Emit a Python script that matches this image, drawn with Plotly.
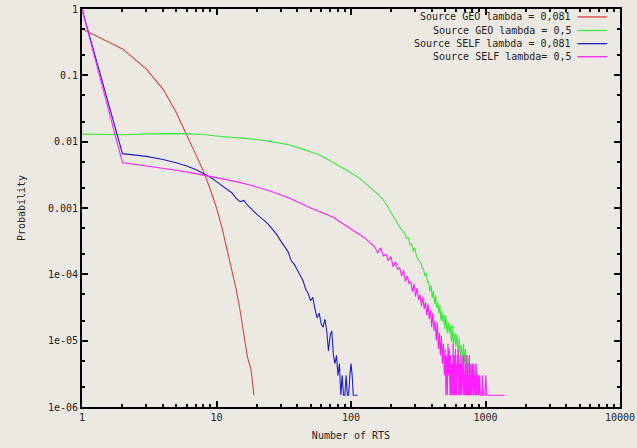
import plotly.graph_objects as go

names = ["Source GEO lambda = 0,081", "Source GEO lambda = 0,5",
         "Source SELF lambda = 0,081", "Source SELF lambda= 0,5"]
colors = ["#d84444", "#3fe83f", "#1e1ec8", "#ff1eff"]

# GEO lambda = 0,081
geo1_x = list(range(1, 20))
geo1_p = [0.5, 0.25, 0.125, 0.062, 0.028, 0.0125, 0.0066, 0.0036, 0.0019, 0.001,
          0.0005, 0.00024, 0.00012, 6e-5, 2.8e-5, 1.2e-5, 5.6e-6, 3.8e-6, 1.5e-6]

# GEO lambda = 0,5
geo5_x = [1, 2, 3, 4, 5, 6, 8, 10, 13, 16, 20, 25, 30, 35, 40, 45, 50, 57, 64, 72,
          80, 90, 100, 116, 130, 145, 165, 180, 200, 215, 232,
          250, 258, 266, 274, 282, 290, 298, 306, 314, 322, 330, 338, 346, 354, 362,
          370, 378, 386, 394, 402, 410, 418, 426, 434, 442, 450, 458, 466, 474, 482,
          490, 498, 508, 518, 528, 538, 548, 558, 568, 578, 590, 602, 614, 626, 638,
          650, 662, 674, 686, 698, 710, 722, 734, 746, 758, 770, 782, 794, 806, 818,
          830, 842, 856, 870]
geo5_p = [0.013, 0.0127, 0.0131, 0.0133, 0.0132, 0.0131, 0.0128, 0.0122, 0.0117, 0.0113,
          0.0108, 0.0101, 0.0094, 0.0089, 0.0082, 0.0076, 0.0071, 0.0064, 0.0057, 0.0050,
          0.0044, 0.0038, 0.0034, 0.0028, 0.0023, 0.0019, 0.0015, 0.0012, 0.00085, 0.00065, 0.00050,
          4.2e-4, 3.5e-4, 3.6e-4, 2.8e-4, 2.9e-4, 2.2e-4, 2.5e-4, 1.9e-4, 1.7e-4, 1.6e-4,
          1.5e-4, 1.25e-4, 1.2e-4, 9.5e-5, 1.05e-4, 7.5e-5, 7.8e-5, 5.5e-5, 6.8e-5, 4.4e-5,
          5.6e-5, 3.6e-5, 4.8e-5, 3.1e-5, 3.7e-5, 2.6e-5, 3.5e-5, 2.0e-5, 2.8e-5, 1.9e-5,
          2.5e-5, 1.5e-5, 2.4e-5, 1.3e-5, 1.9e-5, 1.3e-5, 1.7e-5, 9.5e-6, 1.7e-5, 8.5e-6,
          1.3e-5, 8.0e-6, 1.25e-5, 6.0e-6, 1.1e-5, 6.0e-6, 8.5e-6, 4.5e-6, 9.0e-6, 4.5e-6,
          7.5e-6, 3.0e-6, 6.0e-6, 3.0e-6, 6.0e-6, 1.5e-6, 4.5e-6, 3.0e-6, 4.5e-6, 1.5e-6,
          3.0e-6, 4.5e-6, 1.5e-6, 3.0e-6]

# SELF lambda = 0,081
self1_x = [1, 2, 3, 4, 5, 6, 7, 8, 9, 10, 11, 12, 13, 14, 15, 16, 17, 18, 19, 20,
           22, 24, 26, 28, 30, 32, 34, 36, 38, 40, 42, 44, 46, 48, 50, 52, 54, 56, 58,
           60, 62, 64, 66, 68, 70, 72, 74, 76, 78, 80, 82, 84, 86, 88, 90, 92, 94, 96,
           98, 100, 102, 104, 108, 112]
self1_p = [1.0, 0.0066, 0.006, 0.0054, 0.0048, 0.0043, 0.0038, 0.0033, 0.0029, 0.0025,
           0.0022, 0.0019, 0.0017, 0.0014, 0.00125, 0.0013, 0.0011, 0.00098, 0.00088, 0.0008,
           0.00068, 0.00058, 0.00048, 0.0004, 0.00032, 0.00026, 0.00022, 0.00016, 0.00014,
           0.000115, 0.000095, 0.00008, 0.00006, 0.000052, 0.00004, 0.000045, 0.00003,
           0.000022, 0.000026, 0.000018, 0.000016, 0.000021, 0.000014, 0.000007, 0.000012,
           0.000014, 0.000006, 0.0000045, 0.000006, 0.000003, 0.0000045, 0.0000015,
           0.000003, 0.0000015, 0.0000015, 0.000003, 0.0000015, 0.0000015, 0.000003,
           0.0000045, 0.000003, 0.0000015, 0.0000015, 0.0000015]

# SELF lambda = 0,5
self5_x = [1, 2, 3, 4, 5, 7, 10, 14, 18, 25, 35, 50, 73, 103, 125,
           150, 158, 166, 174, 182, 190, 198, 206, 214, 222, 230, 238, 246, 254, 262,
           270, 278, 286, 294, 302, 310, 318, 326, 334, 342, 350, 358, 366, 374, 382,
           390, 398, 406, 414, 422, 430, 438, 446, 454, 462, 470, 478, 486, 494,
           502, 508, 514, 520, 526, 532, 538, 544, 550, 556, 562, 568, 574, 580, 586,
           592, 598, 603, 608, 613, 618, 623, 628, 633, 638, 643, 648, 653, 658, 663,
           668, 673, 678, 683, 688, 693, 698, 703, 708, 713, 718, 723, 728, 733, 738,
           743, 748, 753, 758, 763, 768, 773, 778, 783, 788, 793, 798, 803, 808, 813,
           818, 823, 828, 833, 840, 847, 854, 861, 868, 875, 885, 895, 905, 915, 940,
           950, 960, 990, 1005, 1020, 1390]
self5_p = [1.0, 0.0048, 0.0043, 0.004, 0.0037, 0.0033, 0.0029, 0.0025, 0.0022, 0.0018,
           0.0014, 0.001, 0.00073, 0.00046, 0.00036,
           2.6e-4, 2.1e-4, 2.5e-4, 1.9e-4, 2.0e-4, 1.6e-4, 1.85e-4, 1.3e-4, 1.55e-4, 1.2e-4,
           1.25e-4, 9.5e-5, 1.15e-4, 7.8e-5, 9.5e-5, 7.2e-5, 7.8e-5, 5.5e-5, 7.2e-5, 4.6e-5,
           6.2e-5, 4.1e-5, 5.0e-5, 3.3e-5, 4.6e-5, 3.0e-5, 3.8e-5, 2.4e-5, 3.6e-5, 2.1e-5,
           2.9e-5, 1.6e-5, 2.6e-5, 1.4e-5, 2.0e-5, 1.0e-5, 1.9e-5, 7.5e-6, 1.3e-5, 6.0e-6,
           1.2e-5, 4.5e-6, 9.0e-6, 3.0e-6,
           7.5e-6, 1.5e-6, 6.0e-6, 1.5e-6, 9.0e-6, 3.0e-6, 7.5e-6, 1.5e-6, 6.0e-6, 1.5e-6,
           4.5e-6, 1.5e-6, 9.0e-6, 1.5e-6, 6.0e-6, 1.5e-6, 7.5e-6, 1.5e-6, 4.5e-6, 1.5e-6,
           6.0e-6, 3.0e-6, 7.5e-6, 1.5e-6, 4.5e-6, 1.5e-6, 6.0e-6, 1.5e-6, 4.5e-6, 1.5e-6,
           6.0e-6, 3.0e-6, 4.5e-6, 1.5e-6, 6.0e-6, 1.5e-6, 3.0e-6, 1.5e-6, 4.5e-6, 1.5e-6,
           6.0e-6, 1.5e-6, 3.0e-6, 1.5e-6, 4.5e-6, 1.5e-6, 3.0e-6, 1.5e-6, 6.0e-6, 1.5e-6,
           3.0e-6, 1.5e-6, 4.5e-6, 1.5e-6, 3.0e-6, 1.5e-6, 4.5e-6, 1.5e-6, 3.0e-6, 1.5e-6,
           4.5e-6, 1.5e-6, 3.0e-6, 1.5e-6, 3.0e-6, 1.5e-6, 4.5e-6, 1.5e-6, 3.0e-6, 1.5e-6,
           3.0e-6, 1.5e-6, 3.0e-6, 1.5e-6, 1.5e-6, 3.0e-6, 1.5e-6, 1.5e-6, 3.0e-6, 1.5e-6,
           1.5e-6]

x_tickvals = [1, 10, 100, 1000, 10000]
x_ticktext = ["1", "10", "100", "1000", "10000"]
y_tickvals = [1, 0.1, 0.01, 0.001, 1e-4, 1e-5, 1e-6]
y_ticktext = ["1", "0.1", "0.01", "0.001", "1e-04", "1e-05", "1e-06"]

series = [(geo1_x, geo1_p), (geo5_x, geo5_p), (self1_x, self1_p), (self5_x, self5_p)]

FONT = "DejaVu Sans Mono"
BG = "#ece9e3"

fig = go.Figure()
for (xs, ps), name, col in zip(series, names, colors):
    fig.add_trace(go.Scatter(x=xs, y=ps, mode="lines", name=name,
                             line=dict(color=col, width=1.1), showlegend=False))

# gnuplot-style key: text right-aligned, sample line to the right
row_y = [0.980, 0.946, 0.913, 0.880]
annotations = []
shapes = []
for name, col, yy in zip(names, colors, row_y):
    annotations.append(dict(x=0.913, y=yy, xref="paper", yref="paper", text=name,
                            showarrow=False, xanchor="right", yanchor="middle",
                            font=dict(family=FONT, size=10, color="#222")))
    shapes.append(dict(type="line", xref="paper", yref="paper", x0=0.921, x1=0.976,
                       y0=yy, y1=yy, line=dict(color=col, width=1.3)))

axis_common = dict(showline=True, linecolor="black", linewidth=2, mirror="ticks",
                   ticks="inside", ticklen=6, tickwidth=1.5, tickcolor="black",
                   showgrid=False, zeroline=False, automargin=False,
                   tickfont=dict(family=FONT, size=10, color="#222"))

fig.update_layout(
    width=637, height=448,
    margin=dict(l=82, r=17, t=9, b=41),
    paper_bgcolor=BG, plot_bgcolor=BG,
    annotations=annotations, shapes=shapes,
    xaxis=dict(type="log", range=[0, 4], tickvals=x_tickvals, ticktext=x_ticktext,
               title=dict(text="Number of RTS", font=dict(family=FONT, size=10, color="#222"), standoff=10),
               minor=dict(ticks="inside", ticklen=3, tickcolor="black", dtick="D1", showgrid=False),
               **axis_common),
    yaxis=dict(type="log", range=[-6, 0], tickvals=y_tickvals, ticktext=y_ticktext,
               title=dict(text="Probability", font=dict(family=FONT, size=10, color="#222"), standoff=20),
               minor=dict(ticks="inside", ticklen=3, tickcolor="black", dtick="D2", showgrid=False),
               **axis_common),
)

fig.write_html("out.html")
